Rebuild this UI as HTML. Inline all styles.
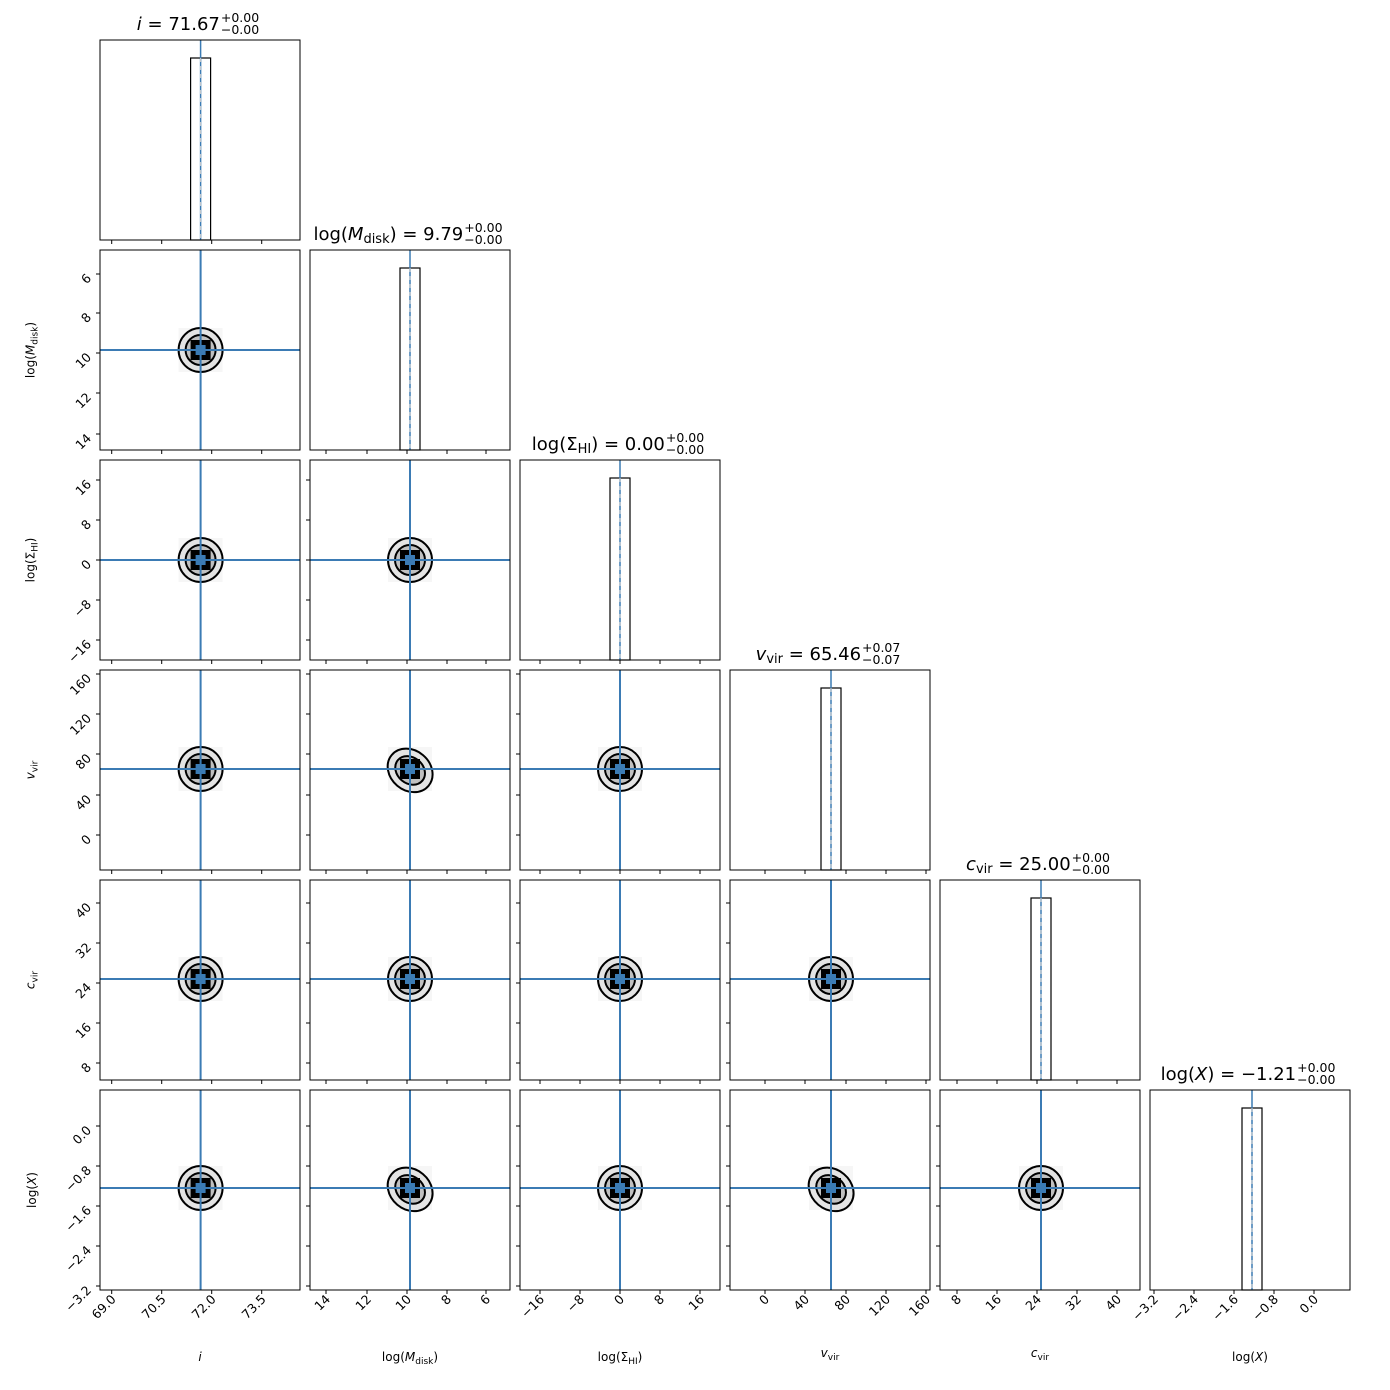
<!DOCTYPE html>
<html><head><meta charset="utf-8"><style>
body{margin:0;background:#fff;width:1390px;height:1390px;position:relative;overflow:hidden;font-family:"DejaVu Sans","Liberation Sans",sans-serif;}
svg{position:absolute;left:0;top:0}
.t{position:absolute;font-size:18px;white-space:nowrap;transform:translateX(-50%);line-height:1}
.ss{display:inline-block;vertical-align:-4px;font-size:12.5px;line-height:12px;text-align:left;margin-left:1px}
.ss span{display:block}
.xl{position:absolute;font-size:12px;white-space:nowrap;transform:translateX(-50%)}
.yl{position:absolute;font-size:12px;white-space:nowrap;transform:translate(-50%,-50%) rotate(-90deg)}
sub{font-size:9px;vertical-align:-3px;font-style:normal}
i{font-family:"DejaVu Sans",sans-serif}
</style></head><body>
<svg id="s" width="1390" height="1390" xmlns="http://www.w3.org/2000/svg"></svg>
<div class="t" style="left:198px;top:12px"><i>i</i> = 71.67<span class="ss"><span>+0.00</span><span>−0.00</span></span></div>
<div class="t" style="left:408px;top:222px">log(<i>M</i><sub style="font-size:13px">disk</sub>) = 9.79<span class="ss"><span>+0.00</span><span>−0.00</span></span></div>
<div class="t" style="left:618px;top:432px">log(Σ<sub style="font-size:13px">HI</sub>) = 0.00<span class="ss"><span>+0.00</span><span>−0.00</span></span></div>
<div class="t" style="left:828px;top:642px"><i>v</i><sub style="font-size:13px">vir</sub> = 65.46<span class="ss"><span>+0.07</span><span>−0.07</span></span></div>
<div class="t" style="left:1038px;top:852px"><i>c</i><sub style="font-size:13px">vir</sub> = 25.00<span class="ss"><span>+0.00</span><span>−0.00</span></span></div>
<div class="t" style="left:1248px;top:1062px">log(<i>X</i>) = −1.21<span class="ss"><span>+0.00</span><span>−0.00</span></span></div>
<div class="xl" style="left:200px;top:1350px"><i>i</i></div>
<div class="xl" style="left:410px;top:1350px">log(<i>M</i><sub>disk</sub>)</div>
<div class="xl" style="left:620px;top:1350px">log(Σ<sub>HI</sub>)</div>
<div class="xl" style="left:830px;top:1346px"><i>v</i><sub>vir</sub></div>
<div class="xl" style="left:1040px;top:1346px"><i>c</i><sub>vir</sub></div>
<div class="xl" style="left:1250px;top:1350px">log(<i>X</i>)</div>
<div class="yl" style="left:32px;top:350px">log(<i>M</i><sub>disk</sub>)</div>
<div class="yl" style="left:32px;top:560px">log(Σ<sub>HI</sub>)</div>
<div class="yl" style="left:32px;top:770px"><i>v</i><sub>vir</sub></div>
<div class="yl" style="left:32px;top:980px"><i>c</i><sub>vir</sub></div>
<div class="yl" style="left:32px;top:1190px">log(<i>X</i>)</div>
<script>
var P=[
{v:["69.0","70.5","72.0","73.5"],o:[11.7,61.7,111.7,161.7],c:100.6},
{v:["14","12","10","8","6"],o:[16,57,97,137,176],c:100},
{v:["−16","−8","0","8","16"],o:[20,60,100,140,180],c:100},
{v:["0","40","80","120","160"],o:[35,75,116,156,196],c:101},
{v:["8","16","24","32","40"],o:[17,57,97,137,177],c:101},
{v:["−3.2","−2.4","−1.6","−0.8","0.0"],o:[4,44,84,124,164],c:102}];
var h='',B='#3b7bb4';
function tx(x,y,s){return '<text x="'+x+'" y="'+y+'" font-size="12.5" font-family="DejaVu Sans,Liberation Sans,sans-serif" text-anchor="end" transform="rotate(-45 '+x+' '+y+')">'+s+'</text>';}
for(var r=0;r<6;r++)for(var c=0;c<=r;c++){
 var L=100+210*c,T=40+210*r,R=L+200,Bt=T+200,p=P[c];
 if(c==r){
  var x0=L+p.c-10;
  h+='<rect x="'+x0+'" y="'+(T+18)+'" width="20" height="182" fill="none" stroke="#000" stroke-width="1.2"/>';
  h+='<line x1="'+(L+p.c)+'" y1="'+T+'" x2="'+(L+p.c)+'" y2="'+Bt+'" stroke="'+B+'" stroke-width="1.5"/>';
  h+='<line x1="'+(L+p.c)+'" y1="'+(T+18)+'" x2="'+(L+p.c)+'" y2="'+Bt+'" stroke="#ccc" stroke-width="1" stroke-dasharray="4,4"/>';
 } else {
  var cx=L+p.c,cy=Bt-P[r].c,sk=(c==1&&(r==3||r==5))||(c==3&&r==5);
  h+='<rect x="'+(cx-22)+'" y="'+(cy-22)+'" width="44" height="44" fill="#f6f6f6"/>';
  if(sk){h+='<ellipse cx="'+(cx+1)+'" cy="'+(cy+1)+'" rx="24" ry="20" transform="rotate(40 '+cx+' '+cy+')" fill="#e4e4e4" stroke="#000" stroke-width="2"/>';
   h+='<ellipse cx="'+(cx+1)+'" cy="'+(cy+1)+'" rx="16" ry="13" transform="rotate(40 '+cx+' '+cy+')" fill="#c0c0c0" stroke="#000" stroke-width="2"/>';}
  else{h+='<circle cx="'+cx+'" cy="'+cy+'" r="22" fill="#e4e4e4" stroke="#000" stroke-width="2"/>';
   h+='<circle cx="'+cx+'" cy="'+cy+'" r="15" fill="#c0c0c0" stroke="#000" stroke-width="2"/>';}
  h+='<rect x="'+(cx-10)+'" y="'+(cy-10)+'" width="20" height="20" fill="#000"/>';
  h+='<rect x="'+(cx-5)+'" y="'+(cy-5)+'" width="10" height="10" fill="'+B+'"/>';
  h+='<line x1="'+cx+'" y1="'+T+'" x2="'+cx+'" y2="'+Bt+'" stroke="'+B+'" stroke-width="2"/>';
  h+='<line x1="'+L+'" y1="'+cy+'" x2="'+R+'" y2="'+cy+'" stroke="'+B+'" stroke-width="2"/>';
  var q=P[r];
  for(var k=0;k<q.o.length;k++){var y=Bt-q.o[k];h+='<line x1="'+(L-4)+'" y1="'+y+'" x2="'+L+'" y2="'+y+'" stroke="#000"/>';
   if(c==0)h+=tx(L-8,y+5,q.v[k]);}
 }
 for(var k=0;k<p.o.length;k++){var x=L+p.o[k];h+='<line x1="'+x+'" y1="'+Bt+'" x2="'+x+'" y2="'+(Bt+4)+'" stroke="#000"/>';
  if(r==5)h+=tx(x+5,Bt+10,p.v[k]);}
 h+='<rect x="'+L+'" y="'+T+'" width="200" height="200" fill="none" stroke="#000" stroke-width="1"/>';
}
document.getElementById('s').innerHTML=h;
</script>
</body></html>
